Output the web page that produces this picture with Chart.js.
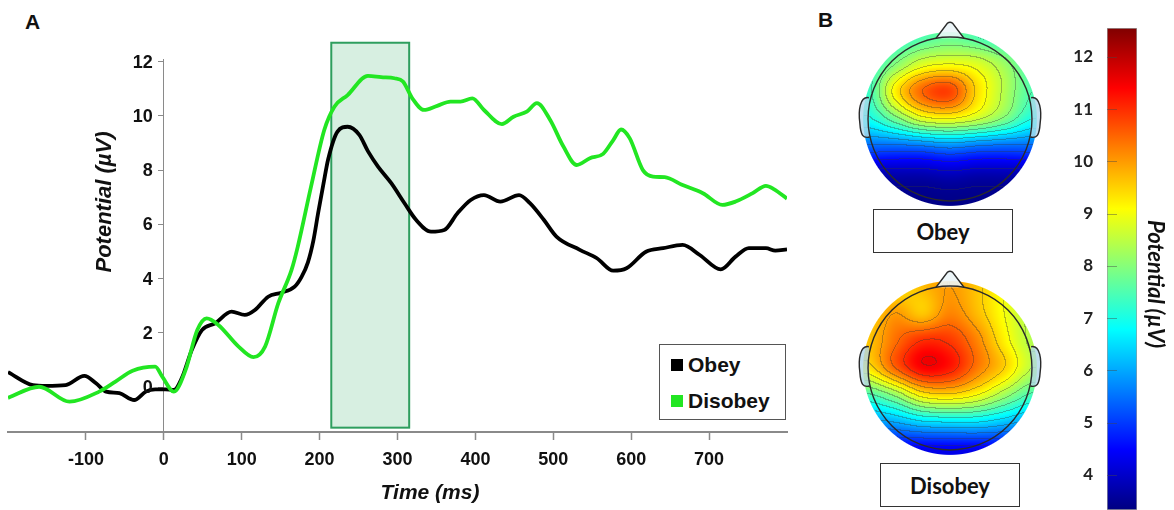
<!DOCTYPE html>
<html>
<head>
<meta charset="utf-8">
<script src="https://cdn.jsdelivr.net/npm/chart.js@4.4.1/dist/chart.umd.min.js"></script>
<style>
  body { margin: 0; background: #fff; width: 1174px; height: 510px; position: relative; overflow: hidden;
         font-family: "Liberation Sans", Arial, sans-serif; }
  canvas { position: absolute; }
  .panel { position: absolute; font-weight: bold; font-size: 21px; line-height: 1; color: #111; }
  .legend { position: absolute; left: 659px; top: 344px; width: 127px; height: 76px; box-sizing: border-box;
            border: 1.5px solid #555; background: #fff; }
  .legend .row { position: absolute; left: 11px; font-weight: bold; font-size: 21px; line-height: 1; color: #111; }
  .legend .sw { display: inline-block; width: 12px; height: 12px; margin-right: 5px; vertical-align: 1px; }
  .tag { position: absolute; width: 140px; height: 44px; box-sizing: border-box; border: 1.5px solid #333;
         font-family: Lato, "Open Sans", sans-serif; font-weight: bold; font-size: 22px; color: #111;
         display: flex; align-items: center; justify-content: center; background: #fff; }
</style>
</head>
<body>
<div class="panel" style="left:25px; top:11px;">A</div>
<div class="panel" style="left:818px; top:9px;">B</div>

<canvas id="erpChart" width="800" height="510" style="left:0; top:0;"></canvas>
<div class="legend">
  <div class="row" style="top:9px;"><span class="sw" style="background:#000"></span>Obey</div>
  <div class="row" style="top:45px;"><span class="sw" style="background:#22e622"></span>Disobey</div>
</div>

<canvas id="topoObey" width="200" height="200" style="left:850px; top:19px;"></canvas>
<div class="tag" style="left:873px; top:209px;">Obey</div>
<canvas id="topoDisobey" width="200" height="200" style="left:850px; top:268px;"></canvas>
<div class="tag" style="left:880px; top:463px;">Disobey</div>

<canvas id="colorBar" width="114" height="510" style="left:1060px; top:0;"></canvas>

<script>
// ---------- Panel A: ERP waveforms ----------
const obeyTime = [-200, -168, -151, -126, -102, -87, -74, -57, -38, -23, -11, 2, 13, 23, 36, 49, 66, 87, 104, 117,
  134, 151, 168, 177, 185, 192, 198, 205, 211, 223, 236, 251, 262, 275, 292, 309, 324, 343, 360, 377,
  394, 411, 432, 456, 470, 488, 504, 534, 556, 577, 594, 619, 641, 666, 688, 715, 734, 751, 773, 785, 800];
const obeyUv = [0.55, 0.07, 0.04, 0.07, 0.41, 0.14, -0.17, -0.23, -0.48, -0.17, -0.09, -0.09, -0.11, 0.32, 1.37, 2.1, 2.35, 2.78, 2.66, 2.84,
  3.33, 3.48, 3.7, 4.07, 4.6, 5.4, 6.4, 7.5, 8.4, 9.42, 9.6, 9.3, 8.7, 8.13, 7.52, 6.78, 6.16, 5.73, 5.79, 6.41,
  6.9, 7.08, 6.84, 7.08, 6.78, 6.16, 5.55, 5.06, 4.75, 4.29, 4.38, 4.99, 5.12, 5.24, 4.87, 4.34, 4.81, 5.12, 5.12, 5.03, 5.08];

const disobeyTime = [-200, -160, -121, -83, -62, -40, -11, -2, 13, 28, 43, 55, 70, 96, 115, 130, 147, 164, 172, 189,
  206, 219, 236, 262, 279, 296, 307, 319, 334, 351, 368, 381, 396, 411, 434, 449, 466, 479, 496, 513,
  530, 547, 564, 577, 587, 598, 615, 628, 643, 666, 692, 717, 734, 756, 773, 783, 800];
const disobeyUv = [-0.4, 0.01, -0.54, -0.17, 0.2, 0.6, 0.75, 0.38, -0.17, 0.63, 2.1, 2.53, 2.29, 1.49, 1.1, 1.49, 3.09, 4.32, 5.18, 7.39,
  9.48, 10.34, 10.77, 11.48, 11.43, 11.39, 11.27, 10.65, 10.22, 10.37, 10.53, 10.53, 10.65, 10.22, 9.7, 9.97, 10.16, 10.47, 9.85, 8.87,
  8.19, 8.44, 8.6, 9.11, 9.5, 9.18, 8.0, 7.76, 7.74, 7.45, 7.15, 6.72, 6.84, 7.15, 7.42, 7.3, 6.95];

const xTicks = [-100, 0, 100, 200, 300, 400, 500, 600, 700];
const yTicks = [0, 2, 4, 6, 8, 10, 12];
const xRange = [-200, 800];
const yRange = [-1.66, 12.1];
const windowMs = [215, 315];     // analysis window (shaded)
const windowUv = [-1.5, 12.7];

// ---------- Panel B: scalp maps + colour bar ----------
const cbRange = [3.33, 12.55];
const cbTicks = [4, 5, 6, 7, 8, 9, 10, 11, 12];
const gridAxis = [-1, -0.667, -0.333, 0, 0.333, 0.667, 1];   // left->right, front->back rows
const obeyMap = [
  [7.0, 7.2, 7.5, 7.7, 7.5, 7.2, 7.0],
  [7.2, 8.0, 8.8, 9.0, 8.8, 8.2, 7.4],
  [7.3, 9.2, 10.5, 10.8, 9.4, 8.4, 7.5],
  [6.9, 7.8, 8.8, 9.0, 8.6, 7.9, 7.0],
  [5.4, 5.4, 5.5, 5.7, 5.5, 5.4, 5.4],
  [3.8, 3.8, 3.8, 3.9, 3.8, 3.8, 3.8],
  [3.4, 3.4, 3.4, 3.4, 3.4, 3.4, 3.4]
];
const disobeyMap = [
  [9.2, 9.3, 9.7, 10.0, 9.6, 9.0, 8.5],
  [9.4, 10.0, 9.6, 10.2, 9.7, 9.0, 8.4],
  [9.6, 10.4, 11.0, 10.9, 10.2, 9.2, 8.4],
  [9.3, 10.5, 11.4, 11.2, 10.3, 9.5, 8.5],
  [7.4, 8.1, 9.2, 9.4, 9.0, 8.2, 7.4],
  [5.8, 6.0, 6.4, 6.5, 6.5, 6.2, 5.8],
  [4.5, 4.4, 4.3, 4.3, 4.3, 4.4, 4.5]
];

const ARIAL = '"Liberation Sans", Arial, sans-serif';
const CAL = 'Lato, "Open Sans", sans-serif';
const axisGray = '#8a8a8a';

function toPoints(xs, ys) {
  return xs.map((x, i) => ({ x: x, y: ys[i] }));
}

// shaded time window, y tick labels, axis titles
const erpPlugin = {
  id: 'erpExtras',
  beforeDatasetsDraw(chart) {
    const { ctx, scales: { x, y } } = chart;
    const x0 = x.getPixelForValue(windowMs[0]);
    const x1 = x.getPixelForValue(windowMs[1]);
    const y0 = y.getPixelForValue(windowUv[1]);
    const y1 = y.getPixelForValue(windowUv[0]);
    ctx.save();
    ctx.fillStyle = 'rgba(160, 216, 184, 0.42)';
    ctx.fillRect(x0, y0, x1 - x0, y1 - y0);
    ctx.strokeStyle = '#2e9e5e';
    ctx.lineWidth = 2;
    ctx.strokeRect(x0, y0, x1 - x0, y1 - y0);
    ctx.restore();
  },
  afterDraw(chart) {
    const { ctx, scales: { x, y } } = chart;
    ctx.save();
    ctx.fillStyle = '#111';
    // y tick labels sit left of the axis drawn at 0 ms
    ctx.font = 'bold 18px ' + ARIAL;
    ctx.textAlign = 'right';
    ctx.textBaseline = 'middle';
    const ax = x.getPixelForValue(0);
    yTicks.forEach(v => ctx.fillText(String(v), ax - 11, y.getPixelForValue(v) + 1));
    ctx.textAlign = 'center';
    ctx.font = 'italic bold 21px ' + ARIAL;
    ctx.fillText('Time (ms)', 430, 493);
    ctx.translate(105, 202);
    ctx.rotate(-Math.PI / 2);
    ctx.font = 'italic bold 22px ' + ARIAL;
    ctx.fillText('Potential (\u00b5V)', 0, 0);
    ctx.restore();
  }
};

new Chart(document.getElementById('erpChart'), {
  type: 'line',
  data: {
    datasets: [{
      label: 'Obey',
      data: toPoints(obeyTime, obeyUv),
      borderColor: '#000',
      borderWidth: 3.8,
      pointRadius: 0,
      cubicInterpolationMode: 'monotone',
      order: 1
    }, {
      label: 'Disobey',
      data: toPoints(disobeyTime, disobeyUv),
      borderColor: '#22e622',
      borderWidth: 3.8,
      pointRadius: 0,
      cubicInterpolationMode: 'monotone',
      order: 0
    }]
  },
  options: {
    responsive: false,
    animation: false,
    devicePixelRatio: 1,
    layout: { padding: { left: 8, right: 13, top: 59, bottom: 0 } },
    plugins: { legend: { display: false }, tooltip: { enabled: false } },
    scales: {
      x: {
        type: 'linear',
        min: xRange[0],
        max: xRange[1],
        position: 'bottom',
        afterBuildTicks: (axis) => { axis.ticks = xTicks.map(v => ({ value: v })); },
        afterFit: (s) => { s.height = 78; s.paddingLeft = 0; s.paddingRight = 0; },
        grid: { drawOnChartArea: false, drawTicks: true, tickLength: 8, tickColor: axisGray, tickWidth: 1.5 },
        border: { color: axisGray, width: 2 },
        ticks: { color: '#111', font: { family: ARIAL, size: 18, weight: 'bold' }, padding: 9, maxRotation: 0, autoSkip: false }
      },
      y: {
        type: 'linear',
        min: yRange[0],
        max: yRange[1],
        position: { x: 0 },
        afterBuildTicks: (axis) => { axis.ticks = yTicks.map(v => ({ value: v })); },
        afterFit: (s) => { s.paddingTop = 0; s.paddingBottom = 0; },
        grid: { drawOnChartArea: false, drawTicks: true, tickLength: 5, tickColor: axisGray },
        border: { color: axisGray, width: 1 },
        ticks: { display: false }
      }
    }
  },
  plugins: [erpPlugin]
});

// ---------- scalp maps ----------
function clamp01(v) { return Math.max(0, Math.min(1, v)); }

function jet(t) {
  t = clamp01(t);
  return [
    255 * clamp01(1.5 - Math.abs(4 * t - 3)),
    255 * clamp01(1.5 - Math.abs(4 * t - 2)),
    255 * clamp01(1.5 - Math.abs(4 * t - 1))
  ];
}

function catmull(p0, p1, p2, p3, t) {
  return 0.5 * (2 * p1 + (-p0 + p2) * t + (2 * p0 - 5 * p1 + 4 * p2 - p3) * t * t + (-p0 + 3 * p1 - 3 * p2 + p3) * t * t * t);
}

function sampleGrid(grid, ux, uy) {
  const n = gridAxis.length - 1;
  const span = gridAxis[n] - gridAxis[0];
  const gx = Math.min(n, Math.max(0, (ux - gridAxis[0]) / span * n));
  const gy = Math.min(n, Math.max(0, (gridAxis[n] - uy) / span * n));
  let i = Math.floor(gx), j = Math.floor(gy);
  if (i >= n) i = n - 1;
  if (j >= n) j = n - 1;
  const fx = gx - i, fy = gy - j;
  const c = k => Math.max(0, Math.min(n, k));
  const rows = [];
  for (let r = j - 1; r <= j + 2; r++) {
    const row = grid[c(r)];
    rows.push(catmull(row[c(i - 1)], row[c(i)], row[c(i + 1)], row[c(i + 2)], fx));
  }
  return catmull(rows[0], rows[1], rows[2], rows[3], fy);
}

const topoPlugin = {
  id: 'topoField',
  beforeDatasetsDraw(chart, args, opts) {
    const { ctx, chartArea: a, scales: { x, y } } = chart;
    const w = Math.round(a.right - a.left), h = Math.round(a.bottom - a.top);
    const unit = x.getPixelForValue(1) - x.getPixelForValue(0);
    const R = 1.06, step = 0.5;
    const vals = new Float32Array(w * h).fill(NaN);
    const alpha = new Float32Array(w * h);
    for (let py = 0; py < h; py++) {
      for (let px = 0; px < w; px++) {
        const ux = x.getValueForPixel(a.left + px + 0.5);
        const uy = y.getValueForPixel(a.top + py + 0.5);
        const d = Math.hypot(ux, uy);
        const al = clamp01((R - d) * unit + 0.5);
        if (al <= 0) continue;
        vals[py * w + px] = sampleGrid(opts.grid, ux, uy);
        alpha[py * w + px] = al;
      }
    }
    const off = document.createElement('canvas');
    off.width = w; off.height = h;
    const octx = off.getContext('2d');
    const img = octx.createImageData(w, h);
    for (let py = 0; py < h; py++) {
      for (let px = 0; px < w; px++) {
        const k = py * w + px;
        const v = vals[k];
        if (isNaN(v)) continue;
        let col = jet((v - cbRange[0]) / (cbRange[1] - cbRange[0]));
        const lev = Math.floor(v / step);
        const vr = px + 1 < w ? vals[k + 1] : NaN;
        const vb = py + 1 < h ? vals[k + w] : NaN;
        const edge = (!isNaN(vr) && Math.floor(vr / step) !== lev) || (!isNaN(vb) && Math.floor(vb / step) !== lev);
        if (edge && alpha[k] >= 1) col = col.map(cc => cc * 0.66 + 18);
        img.data[k * 4] = col[0];
        img.data[k * 4 + 1] = col[1];
        img.data[k * 4 + 2] = col[2];
        img.data[k * 4 + 3] = 255 * alpha[k];
      }
    }
    octx.putImageData(img, 0, 0);
    ctx.drawImage(off, a.left, a.top);
  },
  afterDatasetsDraw(chart) {
    const { ctx, scales: { x, y } } = chart;
    const X = v => x.getPixelForValue(v), Y = v => y.getPixelForValue(v);
    const r = X(1) - X(0);
    ctx.save();
    ctx.strokeStyle = '#2a2a2a';
    ctx.lineWidth = 1.4;
    // ears
    [-1, 1].forEach(s => {
      ctx.beginPath();
      ctx.moveTo(X(s * 0.99), Y(0.26));
      ctx.bezierCurveTo(X(s * 1.1), Y(0.28), X(s * 1.12), Y(0.1), X(s * 1.1), Y(-0.05));
      ctx.bezierCurveTo(X(s * 1.09), Y(-0.2), X(s * 1.06), Y(-0.24), X(s * 0.98), Y(-0.22));
      ctx.fillStyle = 'rgba(175, 215, 235, 0.8)';
      ctx.fill();
      ctx.stroke();
    });
    // nose
    ctx.beginPath();
    ctx.moveTo(X(-0.17), Y(0.985));
    ctx.lineTo(X(-0.03), Y(1.17));
    ctx.quadraticCurveTo(X(0), Y(1.19), X(0.03), Y(1.17));
    ctx.lineTo(X(0.17), Y(0.985));
    ctx.fillStyle = 'rgba(235, 245, 248, 0.9)';
    ctx.fill();
    ctx.stroke();
    // head outline
    ctx.beginPath();
    ctx.arc(X(0), Y(0), r, 0, Math.PI * 2);
    ctx.stroke();
    ctx.restore();
  }
};

function makeTopo(id, grid) {
  return new Chart(document.getElementById(id), {
    type: 'scatter',
    data: { datasets: [] },
    options: {
      responsive: false,
      animation: false,
      devicePixelRatio: 1,
      layout: { padding: 0 },
      plugins: { legend: { display: false }, tooltip: { enabled: false }, topoField: { grid: grid } },
      scales: {
        x: { type: 'linear', min: -1.22, max: 1.22, display: false },
        y: { type: 'linear', min: -1.22, max: 1.22, display: false }
      }
    },
    plugins: [topoPlugin]
  });
}
makeTopo('topoObey', obeyMap);
makeTopo('topoDisobey', disobeyMap);

// ---------- colour bar ----------
function jetGradient(chart) {
  const area = chart.chartArea;
  if (!area) return '#888';
  const ys = chart.scales.y;
  const g = chart.ctx.createLinearGradient(0, ys.getPixelForValue(cbRange[0]), 0, ys.getPixelForValue(cbRange[1]));
  for (let i = 0; i <= 40; i++) {
    const c = jet(i / 40);
    g.addColorStop(i / 40, 'rgb(' + c.map(Math.round).join(',') + ')');
  }
  return g;
}

const colorBarPlugin = {
  id: 'cbExtras',
  afterDatasetsDraw(chart) {
    const { ctx, chartArea: a, scales: { y } } = chart;
    ctx.save();
    ctx.strokeStyle = 'rgba(70, 70, 70, 0.45)';
    ctx.lineWidth = 1;
    cbTicks.forEach(v => {
      const py = Math.round(y.getPixelForValue(v)) + 0.5;
      ctx.beginPath();
      ctx.moveTo(a.left, py);
      ctx.lineTo(a.left + 10, py);
      ctx.stroke();
    });
    ctx.translate(1155 - 1060, 284);
    ctx.rotate(Math.PI / 2);
    ctx.fillStyle = '#111';
    ctx.font = 'italic bold 22px ' + CAL;
    ctx.textAlign = 'center';
    ctx.textBaseline = 'middle';
    ctx.fillText('Potential (\u00b5V)', 0, 0);
    ctx.restore();
  }
};

new Chart(document.getElementById('colorBar'), {
  type: 'bar',
  data: {
    labels: ['\u00b5V'],
    datasets: [{
      data: [cbRange],
      backgroundColor: (c) => jetGradient(c.chart),
      borderColor: '#9a9a9a',
      borderWidth: 1,
      borderSkipped: false,
      barPercentage: 1,
      categoryPercentage: 1
    }]
  },
  options: {
    responsive: false,
    animation: false,
    devicePixelRatio: 1,
    layout: { padding: { left: 0, right: 37, top: 28, bottom: 0 } },
    plugins: { legend: { display: false }, tooltip: { enabled: false } },
    scales: {
      x: { display: false },
      y: {
        min: cbRange[0],
        max: cbRange[1],
        afterBuildTicks: (axis) => { axis.ticks = cbTicks.map(v => ({ value: v })); },
        afterFit: (s) => { s.width = 47; s.paddingTop = 0; s.paddingBottom = 0; },
        grid: { display: false, drawTicks: false },
        border: { display: false },
        ticks: { color: '#222', font: { family: CAL, size: 17, weight: 'bold' }, padding: 14 }
      }
    }
  },
  plugins: [colorBarPlugin]
});
</script>
</body>
</html>
